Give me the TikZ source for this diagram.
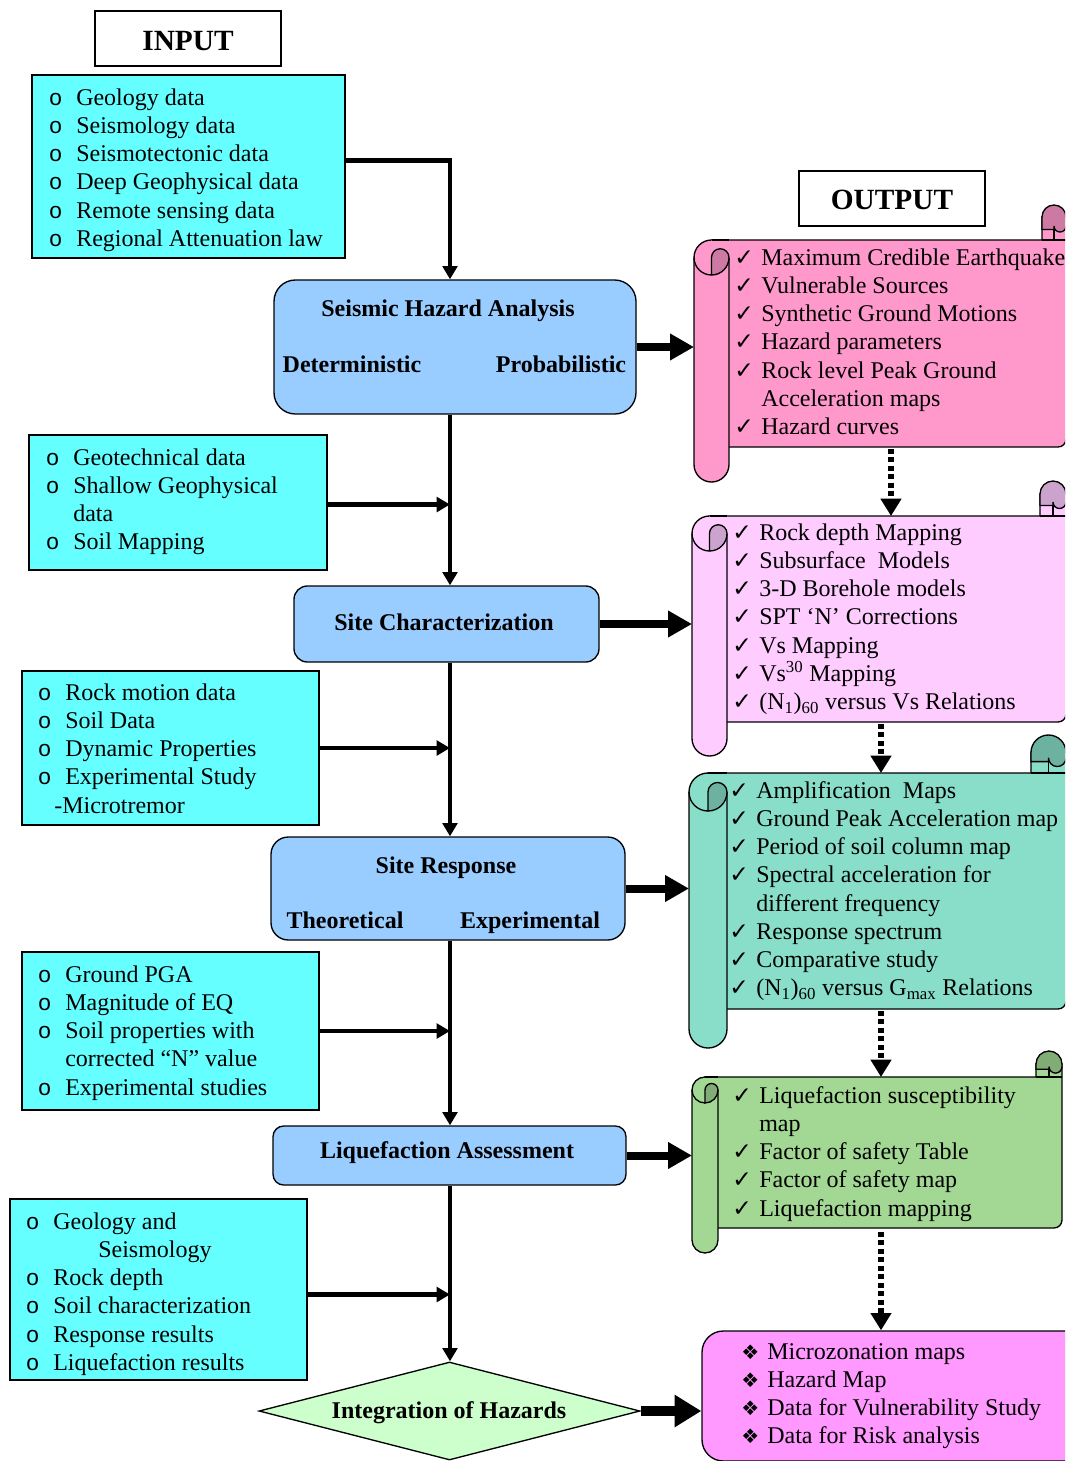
\documentclass[tikz,border=0pt]{standalone}
\usepackage{fontspec}
\setmainfont{Liberation Serif}
\newfontfamily\symfont{DejaVu Sans}
\newfontfamily\bulfont{Liberation Sans}
\usetikzlibrary{shapes.geometric,arrows.meta,calc}

\definecolor{cyanbox}{HTML}{66FFFF}
\definecolor{bluebox}{HTML}{99CCFF}
\definecolor{pinkA}{HTML}{FF99CC}
\definecolor{pinkAd}{HTML}{CC7AA3}
\definecolor{lavB}{HTML}{FFCCFF}
\definecolor{lavBd}{HTML}{CCA3CC}
\definecolor{tealC}{HTML}{88DEC8}
\definecolor{tealCd}{HTML}{6DB2A0}
\definecolor{greenD}{HTML}{A3D794}
\definecolor{greenDd}{HTML}{82AC76}
\definecolor{magE}{HTML}{FF99FF}
\definecolor{diaC}{HTML}{CCFFCC}

\newcommand\bo{\makebox[20.25pt][l]{\bulfont\fontsize{17}{21.2}\selectfont o}}
\newcommand\ck{\makebox[20.25pt][l]{\symfont\fontsize{17.5}{21.2}\selectfont ✓}}
\newcommand\dm{\makebox[19.5pt][l]{\symfont\fontsize{15}{21.2}\selectfont ❖}}
\newcommand\ind{\hspace*{20.25pt}}

% #1 name #2 style #3 x1 #4 y1 #5 x2 #6 y2
\newcommand\pbox[6]{\node[#2, minimum width={0.75*(#5-#3)}, minimum height={0.75*(#6-#4)}] (#1) at ({(#3+#5)/2},{(#4+#6)/2}) {};}

% #1 fill, #2 dark, #3 L, #4 s, #5 T, #6 B, #7 RB, #8 R, #9 w
\newcommand\rollscroll[9]{%
 \pgfmathsetmacro\scRr{#4/2}%
 \pgfmathsetmacro\scRq{#4/4}%
 \pgfmathsetmacro\scCx{#3+#4/2}%
 \pgfmathsetmacro\scCy{#5+#4/2}%
 \pgfmathsetmacro\scLr{#3+#4}%
 \pgfmathsetmacro\scCa{#5-#4+#9/2}%
 \pgfmathsetmacro\scCw{#9/2}%
 \pgfmathsetmacro\scRw{#8-#9}%
 \pgfmathsetmacro\scRh{#8-#9/2}%
 \pgfmathsetmacro\scYl{#5-0.3*#4}%
 \pgfmathsetmacro\scYb{#5-0.4*#4}%
 \pgfmathsetmacro\scRb{#9/4}%
 \pgfmathsetmacro\scBot{#7-#4/2}%
 \filldraw[scrolline, fill=#1] (\scCx,#5) -- (\scRw,#5) -- (\scRw,\scCa) -- (#8,\scCa) -- (#8,#6-8) arc[start angle=0,end angle=90,radius=8] -- (\scCx,#6) -- cycle;
 \draw[scrolline] (\scRw,#5) -- (#8,#5);
 \filldraw[scrolline, fill=#2] (\scRw,\scYl) -- (\scRw,\scCa) arc[start angle=180,end angle=360,radius=\scCw] -- (#8,\scYb) arc[start angle=0,end angle=180,radius=\scRb] -- (\scRh,\scYl) -- cycle;
 \draw[scrolline] (\scRh,\scYl) -- (\scRh,#5);
 \fill[#1] (#3,\scCy) arc[start angle=180,end angle=270,radius=\scRr] -- (\scLr,#5) -- (\scLr,\scBot) arc[start angle=0,end angle=180,radius=\scRr] -- cycle;
 \draw[scrolline] (\scCx,#5) -- (\scLr,#5);
 \draw[scrolline] (\scCx,#5) arc[start angle=270,end angle=180,radius=\scRr] -- (#3,\scBot) arc[start angle=180,end angle=0,radius=\scRr] -- (\scLr,\scCy);
 \draw[scrolline] (#3,\scCy) arc[start angle=180,end angle=90,radius=\scRr];
 \filldraw[scrolline, fill=#2] (\scCx,#5+#4) -- (\scCx,\scCy) arc[start angle=180,end angle=360,radius=\scRq] arc[start angle=0,end angle=90,radius=\scRr] -- cycle;
}

\begin{document}
\begin{tikzpicture}[x=0.75pt,y=-0.75pt,
  box/.style={draw, line width=1pt, inner sep=0pt},
  wbox/.style={box, fill=white},
  cbox/.style={box, fill=cyanbox},
  bbox/.style={box, fill=bluebox, rounded corners=#1},
  fbox/.style={box, fill=magE, rounded corners=16pt},
  lst/.style={inner sep=0pt, anchor=base west, font=\fontsize{18}{21.2}\selectfont},
  hd/.style={inner sep=0pt, anchor=base, font=\fontsize{18}{21.2}\selectfont\bfseries},
  hdbig/.style={inner sep=0pt, anchor=base, font=\fontsize{22}{26}\selectfont\bfseries},
  conn/.style={line width=3.4pt, -{Triangle[length=10pt,width=11pt]}},
  fat/.style={line width=6pt, -{Triangle[length=18pt,width=19pt]}},
  fatter/.style={line width=7pt, -{Triangle[length=20pt,width=23pt]}},
  dots/.style={line width=4pt, dash pattern=on 3.75pt off 2.6pt, -{Triangle[length=13pt,width=15pt]}},
  scrolline/.style={line width=1pt}
]
\useasboundingbox (0,0) rectangle (1065,1461);
\clip (0,0) rectangle (1065,1461);

% ---------- input side boxes ----------
\pbox{inbox}{wbox}{95}{11}{281}{66}
\pbox{box1}{cbox}{32}{75}{345}{258}
\pbox{box2}{cbox}{29}{435}{327}{570}
\pbox{box3}{cbox}{22}{671}{319}{825}
\pbox{box4}{cbox}{22}{952}{319}{1110}
\pbox{box5}{cbox}{10}{1199}{307}{1380}

% ---------- process boxes ----------
\pbox{sha}{bbox=16pt}{274}{280}{636}{414}
\pbox{sc}{bbox=10pt}{294}{586}{599}{662}
\pbox{sr}{bbox=13pt}{271}{837}{625}{940}
\pbox{liq}{bbox=8pt}{273}{1126}{626}{1185}
\node[draw, diamond, fill=diaC, line width=1pt, inner sep=0pt, aspect=3.9,
      minimum width={0.75*381}, minimum height={0.75*98}] (dia) at (449.5,1411) {};

% ---------- output side ----------
\pbox{outbox}{wbox}{799}{171}{985}{226}
\rollscroll{pinkA}{pinkAd}{694}{35}{240}{447}{482}{1066}{24}
\rollscroll{lavB}{lavBd}{692}{35}{516}{722}{756}{1066}{26}
\rollscroll{tealC}{tealCd}{689}{38}{773}{1009}{1048}{1066}{35}
\rollscroll{greenD}{greenDd}{692}{26}{1077}{1228}{1253}{1062}{26}
\pbox{fin}{fbox}{702}{1331}{1090}{1461}

% ---------- coordinates ----------
\coordinate (spine) at (450,0);
\coordinate (s1in) at (694,0);
\coordinate (s2in) at (692,0);
\coordinate (s3in) at (689,0);
\coordinate (s4in) at (692,0);
\coordinate (s1b) at (891,449);
\coordinate (s2t) at (891,516);
\coordinate (s2b) at (881,724);
\coordinate (s3t) at (881,773);
\coordinate (s3b) at (881,1011);
\coordinate (s4t) at (881,1077);
\coordinate (s4b) at (881,1232);

% ---------- connectors ----------
\draw[conn] ($(box1.east)+(0,-6)$) -| (spine |- sha.north);
\draw[conn] (spine |- sha.south) -- (spine |- sc.north);
\draw[conn] ($(box2.east)+(0,2)$) -- ($(box2.east -| spine)+(0,2)$);
\draw[conn] (spine |- sc.south) -- (spine |- sr.north);
\draw[conn] (box3.east) -- (box3.east -| spine);
\draw[conn] (spine |- sr.south) -- (spine |- liq.north);
\draw[conn] (box4.east) -- (box4.east -| spine);
\draw[conn] (spine |- liq.south) -- (spine |- dia.north);
\draw[conn] ($(box5.east)+(0,5)$) -- ($(box5.east -| spine)+(0,5)$);

\draw[fat] (sha.east) -- (sha.east -| s1in);
\draw[fat] (sc.east) -- (sc.east -| s2in);
\draw[fat] (sr.east) -- (sr.east -| s3in);
\draw[fat] (liq.east) -- (liq.east -| s4in);
\draw[fatter] (dia.east) -- (dia.east -| fin.west);

\draw[dots] (s1b) -- (s2t);
\draw[dots] (s2b) -- (s3t);
\draw[dots] (s3b) -- (s4t);
\draw[dots] (s4b) -- (s4b |- fin.north);

% ---------- headings ----------
\node[hdbig] (inputlbl) at (188,50) {INPUT};
\node[hdbig] (outputlbl) at (892,209) {OUTPUT};
\node[hd] (shat) at (448,316) {Seismic Hazard Analysis};
\node[hd] (shad) at (352,372) {Deterministic};
\node[hd] (shap) at (561,372) {Probabilistic};
\node[hd] (sct) at (444,630) {Site Characterization};
\node[hd] (srt) at (446,873) {Site Response};
\node[hd] (srth) at (345,928) {Theoretical};
\node[hd] (srex) at (530,928) {Experimental};
\node[hd] (liqt) at (447,1158) {Liquefaction Assessment};
\node[hd] (diat) at (449,1418) {Integration of Hazards};

% ---------- input lists ----------
\node[lst] (t1) at (49,105) {\begin{tabular}[t]{@{}l@{}}
\bo Geology data\\ \bo Seismology data\\ \bo Seismotectonic data\\
\bo Deep Geophysical data\\ \bo Remote sensing data\\ \bo Regional Attenuation law
\end{tabular}};
\node[lst] (t2) at (46,465) {\begin{tabular}[t]{@{}l@{}}
\bo Geotechnical data\\ \bo Shallow Geophysical\\ \ind data\\ \bo Soil Mapping
\end{tabular}};
\node[lst] (t3) at (38,700) {\begin{tabular}[t]{@{}l@{}}
\bo Rock motion data\\ \bo Soil Data\\ \bo Dynamic Properties\\
\bo Experimental Study\\ \hspace*{12pt}-Microtremor
\end{tabular}};
\node[lst] (t4) at (38,982) {\begin{tabular}[t]{@{}l@{}}
\bo Ground PGA\\ \bo Magnitude of EQ\\ \bo Soil properties with\\
\ind corrected “N” value\\ \bo Experimental studies
\end{tabular}};
\node[lst] (t5) at (26,1229) {\begin{tabular}[t]{@{}l@{}}
\bo Geology and\\ \hspace*{54pt}Seismology\\ \bo Rock depth\\
\bo Soil characterization\\ \bo Response results\\ \bo Liquefaction results
\end{tabular}};

% ---------- output lists ----------
\node[lst] (o1) at (734,265) {\begin{tabular}[t]{@{}l@{}}
\ck Maximum Credible Earthquake\\ \ck Vulnerable Sources\\ \ck Synthetic Ground Motions\\
\ck Hazard parameters\\ \ck Rock level Peak Ground\\ \ind Acceleration maps\\ \ck Hazard curves
\end{tabular}};
\node[lst] (o2) at (732,540) {\begin{tabular}[t]{@{}l@{}}
\ck Rock depth Mapping\\ \ck Subsurface\ \ Models\\ \ck 3-D Borehole models\\
\ck SPT ‘N’ Corrections\\ \ck Vs Mapping\\ \ck Vs\textsuperscript{30} Mapping\\
\ck (N\textsubscript{1})\textsubscript{60} versus Vs Relations
\end{tabular}};
\node[lst] (o3) at (729,798) {\begin{tabular}[t]{@{}l@{}}
\ck Amplification\ \ Maps\\ \ck Ground Peak Acceleration map\\ \ck Period of soil column map\\
\ck Spectral acceleration for\\ \ind different frequency\\ \ck Response spectrum\\
\ck Comparative study\\ \ck (N\textsubscript{1})\textsubscript{60} versus G\textsubscript{max} Relations
\end{tabular}};
\node[lst] (o4) at (732,1103) {\begin{tabular}[t]{@{}l@{}}
\ck Liquefaction susceptibility\\ \ind map\\ \ck Factor of safety Table\\
\ck Factor of safety map\\ \ck Liquefaction mapping
\end{tabular}};
\node[lst] (o5) at (741,1359) {\begin{tabular}[t]{@{}l@{}}
\dm Microzonation maps\\ \dm Hazard Map\\ \dm Data for Vulnerability Study\\ \dm Data for Risk analysis
\end{tabular}};
\end{tikzpicture}
\end{document}
